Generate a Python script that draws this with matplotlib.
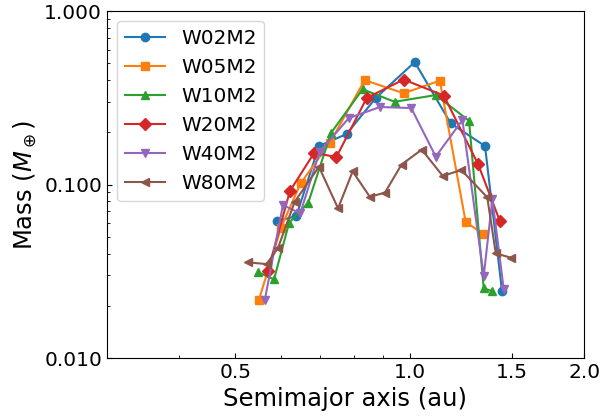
import numpy as np
import matplotlib
matplotlib.use("Agg")
import matplotlib.pyplot as plt
from matplotlib.ticker import FixedLocator, FormatStrFormatter, LogLocator, NullFormatter

# semimajor axis (au) and mass (Earth masses)
a_w02 = [0.591, 0.637, 0.697, 0.778, 0.874, 1.020, 1.177, 1.349, 1.443]
m_w02 = [0.0616, 0.0658, 0.1667, 0.1955, 0.316, 0.508, 0.2253, 0.1667, 0.0244]

a_w05 = [0.549, 0.599, 0.648, 0.728, 0.836, 0.976, 1.127, 1.249, 1.339]
m_w05 = [0.0216, 0.0561, 0.1016, 0.174, 0.400, 0.336, 0.397, 0.0610, 0.0519]

a_w10 = [0.547, 0.583, 0.619, 0.668, 0.731, 0.829, 0.942, 1.109, 1.266, 1.342, 1.387]
m_w10 = [0.0312, 0.0284, 0.0602, 0.0786, 0.198, 0.354, 0.300, 0.328, 0.233, 0.0252, 0.0243]

a_w20 = [0.569, 0.621, 0.684, 0.747, 0.843, 0.976, 1.145, 1.312, 1.430]
m_w20 = [0.0318, 0.0917, 0.1524, 0.144, 0.316, 0.403, 0.326, 0.1313, 0.0620]

a_w40 = [0.562, 0.604, 0.647, 0.699, 0.785, 0.889, 1.006, 1.109, 1.233, 1.342, 1.389, 1.453]
m_w40 = [0.0216, 0.0762, 0.0682, 0.1545, 0.2417, 0.280, 0.276, 0.145, 0.2353, 0.0297, 0.0825, 0.0249]

a_w80 = [0.526, 0.566, 0.592, 0.633, 0.697, 0.752, 0.797, 0.853, 0.906, 0.968,
         1.049, 1.140, 1.228, 1.361, 1.408, 1.498]
m_w80 = [0.0356, 0.0348, 0.0429, 0.0796, 0.1266, 0.0729, 0.1191, 0.0851, 0.0897, 0.1304,
         0.159, 0.1122, 0.1212, 0.0844, 0.0401, 0.0378]

runs = [
    ("W02M2", a_w02, m_w02, "o"),
    ("W05M2", a_w05, m_w05, "s"),
    ("W10M2", a_w10, m_w10, "^"),
    ("W20M2", a_w20, m_w20, "D"),
    ("W40M2", a_w40, m_w40, "v"),
    ("W80M2", a_w80, m_w80, "<"),
]

x_ticks = [0.5, 1.0, 1.5, 2.0]
y_ticks = [0.01, 0.1, 1.0]

fig = plt.figure(figsize=(6.04, 4.18), dpi=100)
ax = fig.add_axes([0.177, 0.1435, 0.790, 0.830])

for name, a, m, mk in runs:
    ax.plot(a, m, marker=mk, label=name)

ax.set_xscale("log")
ax.set_yscale("log")
ax.set_xlim(0.3, 2.0)
ax.set_ylim(0.01, 1.0)

ax.xaxis.set_major_locator(FixedLocator(x_ticks))
ax.xaxis.set_major_formatter(FormatStrFormatter("%.1f"))
ax.xaxis.set_minor_locator(LogLocator(subs=np.arange(2, 10)))
ax.xaxis.set_minor_formatter(NullFormatter())
ax.yaxis.set_major_locator(FixedLocator(y_ticks))
ax.yaxis.set_major_formatter(FormatStrFormatter("%.3f"))
ax.yaxis.set_minor_locator(LogLocator(subs=np.arange(2, 10)))
ax.yaxis.set_minor_formatter(NullFormatter())

ax.tick_params(which="both", direction="in", labelsize=14.5)
ax.set_xlabel("Semimajor axis (au)", fontsize=17.5)
ax.set_ylabel(r"Mass ($M_\oplus$)", fontsize=17.5)
ax.legend(loc="upper left", fontsize=14.4)

fig.savefig("out.png", dpi=100)
